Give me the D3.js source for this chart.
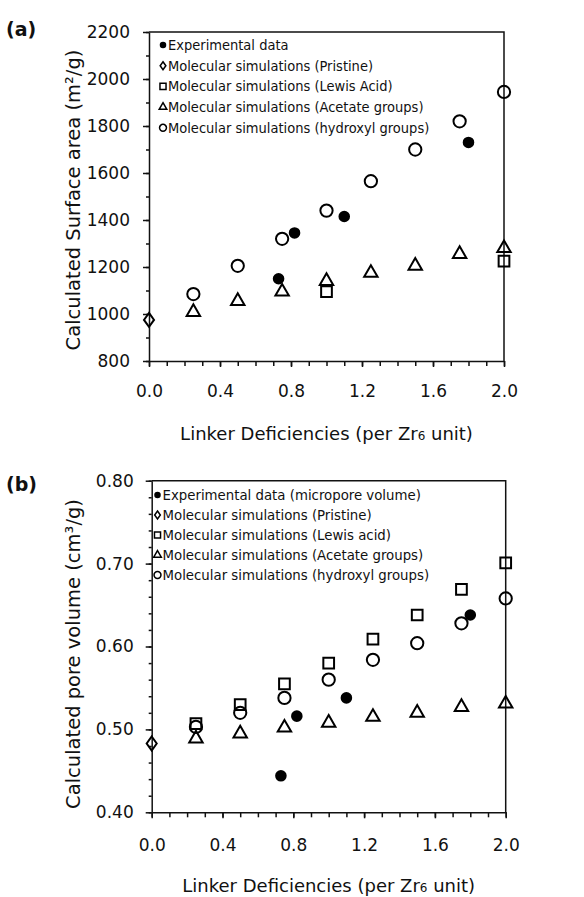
<!DOCTYPE html>
<html>
<head>
<meta charset="utf-8">
<script src="https://cdn.jsdelivr.net/npm/d3@7"></script>
<style>
  body { margin: 0; background: #fff; }
  svg { display: block; }
  .ticklabel, .axistitle { font-family: "DejaVu Sans", Verdana, sans-serif; fill: #111; }
  .legendlabel { font-family: "DejaVu Sans Condensed", "DejaVu Sans", sans-serif; fill: #111; }
  .panellabel { font-family: "DejaVu Sans", sans-serif; font-weight: bold; font-size: 19px; fill: #111; }
</style>
</head>
<body>
<div id="chart"></div>
<script>
// shared x values (linker deficiencies per Zr6 unit)
let simX = [0.25, 0.5, 0.75, 1.0, 1.25, 1.5, 1.75, 2.0];
let expX = [0.73, 0.82, 1.10, 1.80];
let lewisXa = [1.0, 2.0];

// (a) surface area, m2/g
let areaExp = [1150, 1345, 1415, 1730];
let areaPristine = [975];
let areaLewis = [1095, 1225];
let areaAcetate = [1008, 1055, 1095, 1140, 1175, 1205, 1255, 1280];
let areaHydroxyl = [1085, 1205, 1320, 1440, 1565, 1700, 1820, 1945];

// (b) pore volume, cm3/g
let volExp = [0.444, 0.516, 0.538, 0.638];
let volPristine = [0.483];
let volLewis = [0.507, 0.530, 0.555, 0.580, 0.609, 0.638, 0.669, 0.701];
let volAcetate = [0.489, 0.495, 0.502, 0.508, 0.515, 0.520, 0.527, 0.531];
let volHydroxyl = [0.503, 0.520, 0.538, 0.560, 0.584, 0.604, 0.628, 0.658];

let xTicks = [0.0, 0.4, 0.8, 1.2, 1.6, 2.0];
let areaTicks = [800, 1000, 1200, 1400, 1600, 1800, 2000, 2200];
let volTicks = [0.40, 0.50, 0.60, 0.70, 0.80];

let legendA = ['Experimental data', 'Molecular simulations (Pristine)', 'Molecular simulations (Lewis Acid)',
  'Molecular simulations (Acetate groups)', 'Molecular simulations (hydroxyl groups)'];
let legendB = ['Experimental data (micropore volume)', 'Molecular simulations (Pristine)', 'Molecular simulations (Lewis acid)',
  'Molecular simulations (Acetate groups)', 'Molecular simulations (hydroxyl groups)'];

const W = 584, H = 897;
const svg = d3.select('#chart').append('svg').attr('width', W).attr('height', H);

// wider diamond than d3's built-in one
const symbolWideDiamond = {
  draw(context, size) {
    let h = Math.sqrt(size / (2 * 0.72)), w = h * 0.72;
    context.moveTo(0, -h);
    context.lineTo(w, 0);
    context.lineTo(0, h);
    context.lineTo(-w, 0);
    context.closePath();
  }
};

// marker styles: [symbol type, size, filled]
const markers = {
  exp: [d3.symbolCircle, 105, true],
  pristine: [symbolWideDiamond, 70, false],
  lewis: [d3.symbolSquare, 115, false],
  acetate: [d3.symbolTriangle, 78, false],
  hydroxyl: [d3.symbolCircle, 118, false]
};
const legendOrder = ['exp', 'pristine', 'lewis', 'acetate', 'hydroxyl'];

function drawPanel(cfg) {
  let g = svg.append('g');
  let x = d3.scaleLinear().domain([0, 2]).range(cfg.xr);
  let y = d3.scaleLinear().domain(cfg.yd).range(cfg.yr);

  // minor ticks
  g.append('g').attr('transform', `translate(${cfg.xr[0]},0)`)
    .call(d3.axisLeft(y).tickValues(d3.range(cfg.yd[0], cfg.yd[1] + cfg.minor / 2, cfg.minor)).tickSize(3).tickFormat(''))
    .call(a => a.select('.domain').remove())
    .selectAll('line').attr('stroke', '#111').attr('stroke-width', 1.5);
  g.append('g').attr('transform', `translate(0,${cfg.yr[0]})`)
    .call(d3.axisBottom(x).tickValues(d3.range(0, 2.05, 0.1)).tickSize(5).tickFormat(''))
    .call(a => a.select('.domain').remove())
    .selectAll('line').attr('stroke', '#111').attr('stroke-width', 1.5);

  // major axes
  let ya = g.append('g').attr('transform', `translate(${cfg.xr[0]},0)`)
    .call(d3.axisLeft(y).tickValues(cfg.yticks).tickSize(6).tickSizeOuter(0).tickPadding(cfg.ypad).tickFormat(cfg.yfmt));
  let xa = g.append('g').attr('transform', `translate(0,${cfg.yr[0]})`)
    .call(d3.axisBottom(x).tickValues(xTicks).tickSize(6).tickSizeOuter(0).tickFormat(d3.format('.1f')));
  [ya, xa].forEach(a => {
    a.selectAll('path, line').attr('stroke', '#111').attr('stroke-width', 1.5);
    a.selectAll('text').attr('class', 'ticklabel').attr('font-size', 17).attr('font-family', null).attr('fill', null);
  });
  xa.selectAll('text').attr('y', cfg.xlabY).attr('dy', 0);

  // frame top and right
  g.append('path').attr('fill', 'none').attr('stroke', '#111').attr('stroke-width', 1.5)
    .attr('d', `M${cfg.xr[0]},${cfg.yr[1]}H${cfg.xr[1]}V${cfg.yr[0]}`);

  // axis titles
  let xt = g.append('text').attr('class', 'axistitle').attr('font-size', 18)
    .attr('text-anchor', 'middle').attr('x', (cfg.xr[0] + cfg.xr[1]) / 2).attr('y', cfg.xtitleY);
  xt.append('tspan').text('Linker Deficiencies (per Zr');
  xt.append('tspan').attr('font-size', 12).text('6');
  xt.append('tspan').text(' unit)');

  g.append('text').attr('class', 'axistitle').attr('font-size', 19.5)
    .attr('text-anchor', 'middle').attr('dominant-baseline', 'central')
    .attr('transform', `translate(73,${cfg.ytitleY}) rotate(-90)`)
    .text(cfg.ytitle);

  g.append('text').attr('class', 'panellabel').attr('x', 6).attr('y', cfg.labelY).text(cfg.label);

  // data
  let series = [
    ['exp', expX, cfg.data.exp],
    ['pristine', [0], cfg.data.pristine],
    ['lewis', cfg.lewisX, cfg.data.lewis],
    ['acetate', simX, cfg.data.acetate],
    ['hydroxyl', simX, cfg.data.hydroxyl]
  ];
  ['hydroxyl', 'acetate', 'lewis', 'pristine', 'exp'].forEach(key => {
    let s = series.find(d => d[0] === key);
    let m = markers[key];
    let pts = s[2].map((v, i) => [s[1][i], v]);
    g.append('g').selectAll('path').data(pts).enter().append('path')
      .attr('transform', d => `translate(${x(d[0])},${y(d[1])})`)
      .attr('d', d3.symbol().type(m[0]).size(m[1]))
      .attr('fill', m[2] ? '#000' : 'none')
      .attr('stroke', '#000')
      .attr('stroke-width', m[2] ? 0 : 2);
  });

  // legend
  let lg = g.append('g').selectAll('g').data(cfg.legend).enter().append('g')
    .attr('transform', (d, i) => `translate(${cfg.legX},${cfg.legY + i * cfg.legStep})`);
  lg.append('path')
    .attr('d', (d, i) => {
      let m = markers[legendOrder[i]];
      return d3.symbol().type(m[0]).size(m[1] * 0.32)();
    })
    .attr('fill', (d, i) => markers[legendOrder[i]][2] ? '#000' : 'none')
    .attr('stroke', '#000')
    .attr('stroke-width', (d, i) => markers[legendOrder[i]][2] ? 0 : 1.5);
  lg.append('text').attr('class', 'legendlabel').attr('font-size', cfg.legFont)
    .attr('x', 5).attr('dy', '0.35em').text(d => d);
}

drawPanel({
  label: '(a)', labelY: 36,
  xr: [149, 504], yr: [361, 32], yd: [800, 2200], minor: 100,
  yticks: areaTicks, yfmt: d3.format('d'), ypad: 13,
  xlabY: 36, xtitleY: 440,
  ytitle: 'Calculated Surface area (m²/g)', ytitleY: 200,
  lewisX: lewisXa,
  data: { exp: areaExp, pristine: areaPristine, lewis: areaLewis, acetate: areaAcetate, hydroxyl: areaHydroxyl },
  legend: legendA, legX: 163, legY: 45, legStep: 20.7, legFont: 14.5
});

drawPanel({
  label: '(b)', labelY: 491,
  xr: [151.7, 505.7], yr: [812.3, 480.7], yd: [0.4, 0.8], minor: 0.02,
  yticks: volTicks, yfmt: d3.format('.2f'), ypad: 12,
  xlabY: 38.5, xtitleY: 892,
  ytitle: 'Calculated pore volume (cm³/g)', ytitleY: 654,
  lewisX: simX,
  data: { exp: volExp, pristine: volPristine, lewis: volLewis, acetate: volAcetate, hydroxyl: volHydroxyl },
  legend: legendB, legX: 157.5, legY: 495, legStep: 20, legFont: 14.8
});
</script>
</body>
</html>
